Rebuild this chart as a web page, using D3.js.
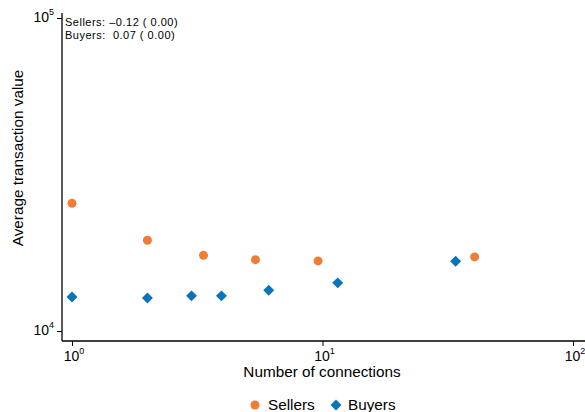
<!DOCTYPE html>
<html>
<head>
<meta charset="utf-8">
<script src="https://cdn.jsdelivr.net/npm/d3@7"></script>
<style>
body { margin: 0; background: #fff; }
text { font-family: "Liberation Sans", Arial, sans-serif; fill: #000; }
</style>
</head>
<body>
<div id="chart"></div>
<script>
// values
const sellerX = [1, 2, 3.35, 5.4, 9.6, 40.5];
const sellerY = [25600, 19500, 17450, 16900, 16750, 17250];
const buyerX = [1, 2, 3, 3.95, 6.1, 11.5, 34];
const buyerY = [12850, 12750, 12950, 12950, 13500, 14250, 16700];
const xTicks = [1, 10, 100];
const yTicks = [1e4, 1e5];
const notes = ["Sellers: \u20130.12 ( 0.00)", "Buyers:  0.07 ( 0.00)"];

const W = 585, H = 412;
const orange = "#ef7d38", blue = "#0b74b8";

let svg = d3.select('#chart').append('svg')
    .attr('width', W).attr('height', H);

let x = d3.scaleLog().domain([1, 100]).range([72, 573]);
let y = d3.scaleLog().domain([1e4, 1e5]).range([331, 18]);

// axis lines
svg.append('line').attr('x1', 62).attr('x2', 585).attr('y1', 341).attr('y2', 341)
    .attr('stroke', '#000').attr('stroke-width', 1.3);
svg.append('line').attr('x1', 62).attr('x2', 62).attr('y1', 13).attr('y2', 341)
    .attr('stroke', '#000').attr('stroke-width', 1.3);

function pow10(sel, v) {
    let e = Math.round(Math.log10(v));
    sel.append('tspan').text('10');
    sel.append('tspan').attr('dy', -7).attr('font-size', 9).text(e);
}

let xa = svg.append('g').attr('transform', 'translate(0,341)')
    .call(d3.axisBottom(x).tickValues(xTicks).tickFormat('').tickSize(5));
xa.select('.domain').remove();
xa.selectAll('line').attr('stroke-width', 1);
xTicks.forEach(v => {
    let t = svg.append('text').attr('x', x(v) + 2).attr('y', 361)
        .attr('text-anchor', 'middle').attr('font-size', 14);
    pow10(t, v);
});

let ya = svg.append('g').attr('transform', 'translate(62,0)')
    .call(d3.axisLeft(y).tickValues(yTicks).tickFormat('').tickSize(5));
ya.select('.domain').remove();
ya.selectAll('line').attr('stroke-width', 1);
yTicks.forEach(v => {
    let t = svg.append('text').attr('x', 54).attr('y', y(v) + 4)
        .attr('text-anchor', 'end').attr('font-size', 14);
    pow10(t, v);
});

svg.append('text').attr('x', 322).attr('y', 377).attr('text-anchor', 'middle')
    .attr('font-size', 15.3).text('Number of connections');
svg.append('text').attr('transform', 'translate(23,158) rotate(-90)')
    .attr('text-anchor', 'middle').attr('font-size', 15.3).text('Average transaction value');

svg.selectAll('.note').data(notes).enter().append('text')
    .attr('x', 65).attr('y', (d, i) => 26 + i * 12.5)
    .attr('font-size', 11).attr('letter-spacing', 0.5)
    .attr('xml:space', 'preserve').text(d => d);

// points
svg.selectAll('.seller').data(sellerX).enter().append('circle')
    .attr('cx', d => x(d)).attr('cy', (d, i) => y(sellerY[i]))
    .attr('r', 4.5).attr('fill', orange);

let diamond = d3.symbol().type(d3.symbolSquare).size(60);
svg.selectAll('.buyer').data(buyerX).enter().append('path')
    .attr('d', diamond)
    .attr('transform', (d, i) => 'translate(' + x(d) + ',' + y(buyerY[i]) + ') rotate(45)')
    .attr('fill', blue);

// legend
svg.append('circle').attr('cx', 255).attr('cy', 405).attr('r', 4.5).attr('fill', orange);
svg.append('text').attr('x', 268).attr('y', 410).attr('font-size', 15.3).text('Sellers');
svg.append('path').attr('d', diamond).attr('transform', 'translate(336,405) rotate(45)').attr('fill', blue);
svg.append('text').attr('x', 348).attr('y', 410).attr('font-size', 15.3).text('Buyers');
</script>
</body>
</html>
